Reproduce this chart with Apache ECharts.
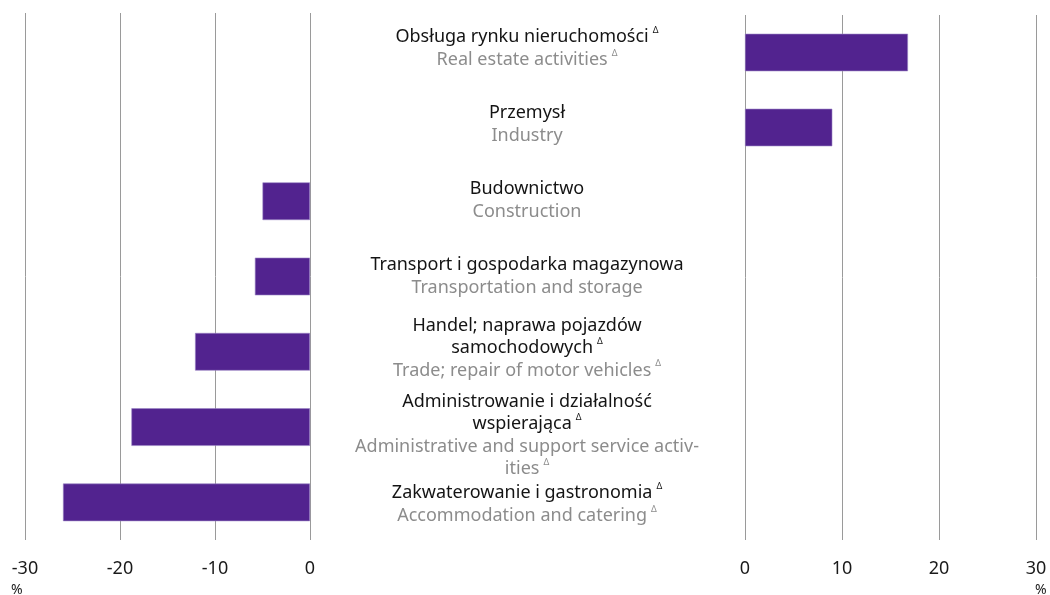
<!DOCTYPE html>
<html>
<head>
<meta charset="utf-8">
<script src="https://cdn.jsdelivr.net/npm/echarts@6/dist/echarts.min.js"></script>
<style>html,body{margin:0;padding:0;background:#fff}#c{width:1050px;height:595px}</style>
</head>
<body>
<div id="c"></div>
<script>
// ---- data ----
const labelsPL = [
  'Obsługa rynku nieruchomości',
  'Przemysł',
  'Budownictwo',
  'Transport i gospodarka magazynowa',
  'Handel; naprawa pojazdów\nsamochodowych',
  'Administrowanie i działalność\nwspierająca',
  'Zakwaterowanie i gastronomia'
];
const labelsEN = [
  'Real estate activities',
  'Industry',
  'Construction',
  'Transportation and storage',
  'Trade; repair of motor vehicles',
  'Administrative and support service activ-\nities',
  'Accommodation and catering'
];
const deltaMark = [true, false, false, false, true, true, true];
const values = [16.8, 9.0, -5.0, -5.8, -12.1, -18.8, -26.0];
const leftTicks = [-30, -20, -10, 0];
const rightTicks = [0, 10, 20, 30];
const unit = '%';

// ---- style ----
const FONT = '"Noto Sans", sans-serif';
const BAR = '#52238f';
const LABEL_SHIFT = [0, 0, 0, 0, -9, 14, 0]; // spacer heights (px) to nudge multi-line labels

const cats = labelsPL.map((_, i) => String(i));

function fmtLabel(v) {
  const i = +v;
  const pl = labelsPL[i].split('\n');
  const en = labelsEN[i].split('\n');
  const out = [];
  pl.forEach((l, k) => out.push('{pl|' + l + '}' + (k === pl.length - 1 && deltaMark[i] ? '{supPl|Δ}' : '')));
  en.forEach((l, k) => out.push('{en|' + l + '}' + (k === en.length - 1 && deltaMark[i] ? '{supEn|Δ}' : '')));
  const s = LABEL_SHIFT[i];
  if (s > 0) out.unshift('{gap' + s + '| }');
  if (s < 0) out.push('{gap' + (-s) + '| }');
  return out.join('\n');
}

const rich = {
  pl: {fontFamily: FONT, fontSize: 18, color: '#141414', lineHeight: 22.5},
  en: {fontFamily: FONT, fontSize: 18, color: '#8c8c8c', lineHeight: 22.5},
  supPl: {fontFamily: FONT, fontSize: 9, color: '#141414', lineHeight: 15, verticalAlign: 'top', padding: [0, 0, 0, 4]},
  supEn: {fontFamily: FONT, fontSize: 9, color: '#8c8c8c', lineHeight: 15, verticalAlign: 'top', padding: [0, 0, 0, 4]}
};
LABEL_SHIFT.forEach(s => { if (s) rich['gap' + Math.abs(s)] = {fontSize: 1, lineHeight: Math.abs(s)}; });

const chart = echarts.init(document.getElementById('c'), null, {renderer: 'canvas'});
chart.setOption({
  animation: false,
  backgroundColor: '#fff',
  textStyle: {fontFamily: FONT},
  grid: [
    {left: 25, right: 740, top: 13, bottom: 55, containLabel: false},
    {left: 745, right: 14, top: 15, bottom: 55, containLabel: false},
    {left: 745, right: 14, top: 10.5, bottom: 52.5, containLabel: false}
  ],
  xAxis: [
    {
      gridIndex: 0, type: 'value', min: leftTicks[0], max: leftTicks[leftTicks.length - 1], interval: 10,
      axisLine: {show: false}, axisTick: {show: false},
      splitLine: {show: true, lineStyle: {color: '#9a9a9a', width: 1}},
      axisLabel: {color: '#1a1a1a', fontSize: 18, fontFamily: FONT, margin: 20}
    },
    {
      gridIndex: 1, type: 'value', min: rightTicks[0], max: rightTicks[rightTicks.length - 1], interval: 10,
      axisLine: {show: false}, axisTick: {show: false},
      splitLine: {show: true, lineStyle: {color: '#9a9a9a', width: 1}},
      axisLabel: {color: '#1a1a1a', fontSize: 18, fontFamily: FONT, margin: 20}
    },
    {
      gridIndex: 2, type: 'value', min: 0, max: 30, show: false
    }
  ],
  yAxis: [
    {
      gridIndex: 0, type: 'category', data: cats, inverse: true,
      axisLine: {show: false}, axisTick: {show: false}, axisLabel: {show: false}
    },
    {
      gridIndex: 1, type: 'category', data: cats, inverse: true,
      axisLine: {show: false}, axisTick: {show: false}, axisLabel: {show: false}
    },
    {
      gridIndex: 2, type: 'category', data: cats, inverse: true,
      axisLine: {show: false}, axisTick: {show: false}, splitLine: {show: false},
      axisLabel: {
        show: true, margin: 218, align: 'center', interval: 0,
        formatter: fmtLabel, rich: rich
      }
    }
  ],
  series: [
    {
      type: 'bar', xAxisIndex: 0, yAxisIndex: 0, barWidth: '50%',
      data: values.map(v => v < 0 ? v : '-'),
      itemStyle: {color: BAR, borderColor: '#9b85c4', borderWidth: 0.6},
      silent: true
    },
    {
      type: 'bar', xAxisIndex: 1, yAxisIndex: 1, barWidth: '50%',
      data: values.map(v => v > 0 ? v : '-'),
      itemStyle: {color: BAR, borderColor: '#9b85c4', borderWidth: 0.6},
      silent: true
    }
  ],
  graphic: [
    {type: 'text', left: 11, top: 583, style: {text: unit, fontFamily: FONT, fontSize: 14, fill: '#1a1a1a'}},
    {type: 'text', left: 1035, top: 583, style: {text: unit, fontFamily: FONT, fontSize: 14, fill: '#1a1a1a'}}
  ]
});
</script>
</body>
</html>
